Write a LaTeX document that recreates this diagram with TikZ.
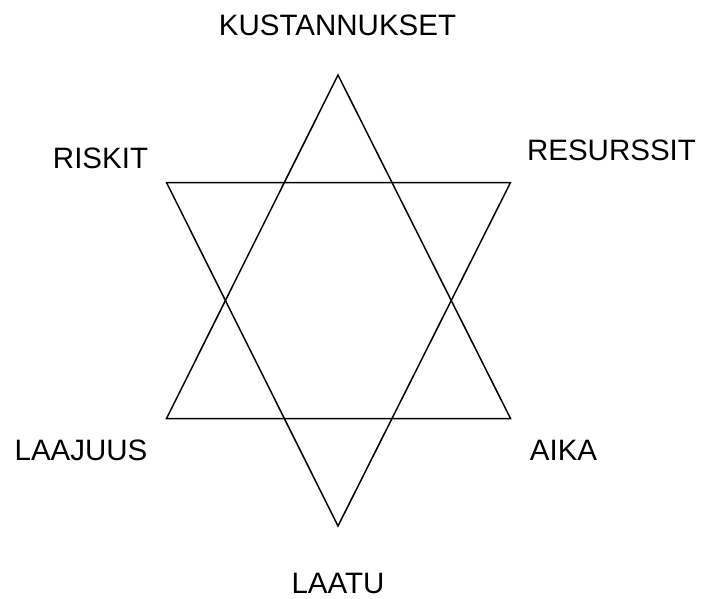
\documentclass[tikz,border=0pt]{standalone}
\usepackage{fontspec}
\setmainfont{Liberation Sans}
\begin{document}
\begin{tikzpicture}[x=1pt,y=-1pt,
  lbl/.style={anchor=base,inner sep=0pt,font=\fontsize{29.5}{32}\selectfont},
  edge/.style={line width=1.5pt,line join=miter}]
\useasboundingbox (0,0) rectangle (704,598);
\coordinate (t) at (338,75);
\coordinate (bl) at (166.5,418.5);
\coordinate (br) at (510.5,418.5);
\coordinate (tl) at (166.5,182.5);
\coordinate (tr) at (510.5,182.5);
\coordinate (b) at (338,526);
\draw[edge] (t) -- (br) -- (bl) -- cycle;
\draw[edge] (tl) -- (tr) -- (b) -- cycle;
\node[lbl] (kust) at (337.5,35) {KUSTANNUKSET};
\node[lbl] (risk) at (100.5,168) {RISKIT};
\node[lbl] (res) at (611.5,160) {RESURSSIT};
\node[lbl] (laaj) at (81,460) {LAAJUUS};
\node[lbl] (aika) at (563.5,460) {AIKA};
\node[lbl] (laatu) at (338,593.5) {LAATU};
\end{tikzpicture}
\end{document}
